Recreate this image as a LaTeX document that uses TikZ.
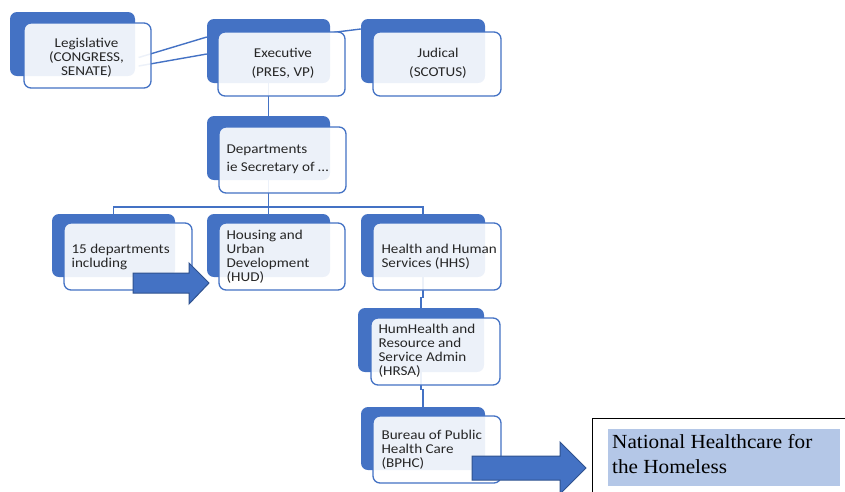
\documentclass[tikz,border=0pt]{standalone}
\usepackage{fontspec}
\usetikzlibrary{fit,calc,backgrounds}
\newfontfamily\boxfont[FakeStretch=1.12]{Carlito}
\newfontfamily\natfont[FakeStretch=1.06]{Liberation Serif}
\definecolor{obl}{HTML}{4472C4}
\definecolor{darkbl}{HTML}{2F528F}
\definecolor{natfill}{HTML}{B4C7E7}
\definecolor{txtc}{HTML}{262626}
\tikzset{
  backbox/.style={fill=obl, draw=none, rounded corners=7pt, inner sep=0pt},
  frontbox/.style={draw=obl, line width=1.3pt, fill=white, fill opacity=0.9, rounded corners=7pt, inner sep=0pt},
  txt/.style={inner sep=0pt, text=txtc, font=\boxfont\fontsize{13.5}{14}\selectfont},
  conn/.style={draw=obl, line width=1.4pt},
  blockarrow/.style={fill=obl, draw=darkbl, line width=1pt, line join=miter}
}
\begin{document}
\begin{tikzpicture}[x=1pt,y=-1pt]
\useasboundingbox (0,0) rectangle (845,491);
\clip (0,0) rectangle (845,491);
% back boxes
\node (legB)  [backbox, fit={(10,12) (135,76)}] {};
\node (exeB)  [backbox, fit={(207,19) (330,83)}] {};
\node (judB)  [backbox, fit={(361,19) (485,83)}] {};
\node (depB)  [backbox, fit={(207,116) (330,180)}] {};
\node (fifB)  [backbox, fit={(52,214) (175,277)}] {};
\node (hudB)  [backbox, fit={(207,214) (330,277)}] {};
\node (hhsB)  [backbox, fit={(361,214) (485,277)}] {};
\node (hrsaB) [backbox, fit={(358,308) (484,372)}] {};
\node (bphcB) [backbox, fit={(361,407) (485,470)}] {};
% front boxes
\node (legF)  [frontbox, fit={(24,23) (151,88)}] {};
\node (exeF)  [frontbox, fit={(218,32) (345,96)}] {};
\node (judF)  [frontbox, fit={(373,32) (501,96)}] {};
\node (depF)  [frontbox, fit={(219,127) (346,193)}] {};
\node (fifF)  [frontbox, fit={(64,223) (192,290)}] {};
\node (hudF)  [frontbox, fit={(219,223) (345,290)}] {};
\node (hhsF)  [frontbox, fit={(373,223) (501,290)}] {};
\node (hrsaF) [frontbox, fit={(371,318) (500,385)}] {};
\node (bphcF) [frontbox, fit={(373,416) (501,483)}] {};

% connectors (under the boxes)
\begin{scope}[on background layer]
\draw[conn] ($(legF.east)+(-13,2)$) -- ($(exeB.west)+(0,-14)$);
\draw[conn] ($(legF.east)+(-13,10.5)$) -- ($(exeB.west)+(0,3)$);
\draw[conn] ($(exeF.north east)+(-12,1)$) -- ($(judB.west)+(0,-22)$);
\draw[conn] (exeB.center) -- (depB.center);
\coordinate (bus) at ($(depB.center)+(0,59)$);
\draw[conn] (depB.center) -- (bus);
\draw[conn] (fifB.center) |- (bus);
\draw[conn] (hhsB.center) |- (bus);
\draw[conn] (hudB.center) -- (bus);
\draw[conn] (hhsB.center) |- ($(hhsB.center)!0.55!(hrsaB.center)$) -| (hrsaB.center);
\draw[conn] (hrsaB.center) |- ($(hrsaB.center)!0.5!(bphcB.center)$) -| (bphcB.center);
\end{scope}

% texts
\node (legT) [txt, align=center] at ($(legF.center)+(-1,2)$) {Legislative\\(CONGRESS,\\SENATE)};
\node (exeT) [txt, align=center] at ($(exeF.center)+(1.5,-1)$) {Executive\\[5pt](PRES, VP)};
\node (judT) [txt, align=center] at ($(judF.center)+(1,-1)$) {Judical\\[5pt](SCOTUS)};
\node (depT) [txt, align=left, anchor=west] at ($(depF.west)+(8,-0.5)$) {Departments\\[4pt]ie Secretary of \dots};
\node (fifT) [txt, align=left, anchor=west] at ($(fifF.west)+(8,0)$) {15 departments\\including};
\node (hudT) [txt, align=left, anchor=west] at ($(hudF.west)+(8,0)$) {Housing and\\Urban\\Development\\(HUD)};
\node (hhsT) [txt, align=left, anchor=west] at ($(hhsF.west)+(9,0)$) {Health and Human\\Services (HHS)};
\node (hrsaT) [txt, align=left, anchor=west] at ($(hrsaF.west)+(8,-1)$) {HumHealth and\\Resource and\\Service Admin\\(HRSA)};
\node (bphcT) [txt, align=left, anchor=west] at ($(bphcF.west)+(9,0)$) {Bureau of Public\\Health Care\\(BPHC)};

% block arrows
\coordinate (ar1) at (133,283);
\draw[blockarrow] (ar1) ++(0,-10) -- ++(56,0) -- ++(0,-10) -- ++(20,20) -- ++(-20,21) -- ++(0,-11) -- ++(-56,0) -- cycle;
\coordinate (ar2) at (472,468);
\draw[blockarrow] (ar2) ++(0,-12) -- ++(88,0) -- ++(0,-14) -- ++(26,26) -- ++(-26,26) -- ++(0,-14) -- ++(-88,0) -- cycle;

% national healthcare box
\node (natbox) [draw=black, line width=0.9pt, fit={(592,418) (870,520)}, inner sep=0pt] {};
\node (natbg) [fill=natfill, fit={(608,429) (840,486)}, inner sep=0pt] {};
\node (natT) [inner sep=0pt, anchor=north west, align=left, text=black, font=\natfont\fontsize{20}{25}\selectfont] at (612,434.5) {National Healthcare for\\the Homeless};
\end{tikzpicture}
\end{document}
